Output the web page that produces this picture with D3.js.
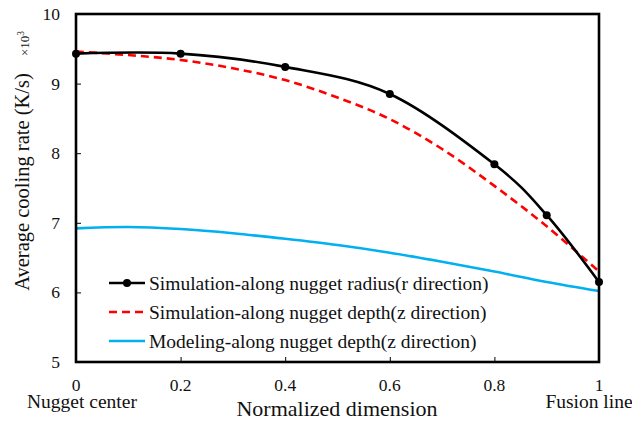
<!DOCTYPE html>
<html>
<head>
<meta charset="utf-8">
<script src="https://cdn.jsdelivr.net/npm/d3@7"></script>
<style>
  html, body { margin: 0; padding: 0; background: #fff; }
  svg { display: block; }
</style>
</head>
<body>
<svg id="chart" width="632" height="423"></svg>
<script>
// Cooling rate (x10^3 K/s) versus normalized position from nugget center to fusion line
const radiusX = [0, 0.2, 0.4, 0.6, 0.8, 0.9, 1];
const radiusY = [9.43, 9.43, 9.24, 8.85, 7.84, 7.11, 6.15];

const depthX = [0, 0.1, 0.2, 0.3, 0.4, 0.5, 0.6, 0.7, 0.8, 0.9, 1];
const depthSimY = [9.46, 9.41, 9.34, 9.22, 9.05, 8.80, 8.49, 8.06, 7.53, 6.95, 6.30];
const depthModelY = [6.92, 6.94, 6.91, 6.85, 6.77, 6.68, 6.57, 6.44, 6.30, 6.15, 6.02];

const xTicks = [0, 0.2, 0.4, 0.6, 0.8, 1];
const yTicks = [5, 6, 7, 8, 9, 10];
const seriesNames = [
  "Simulation-along nugget radius(r direction)",
  "Simulation-along nugget depth(z direction)",
  "Modeling-along nugget depth(z direction)"
];
const seriesColors = ["#000000", "#ff0000", "#00b0f0"];

const svg = d3.select("#chart");
const serif = "Liberation Serif, DejaVu Serif, serif";
const m = { left: 76, right: 599, top: 14, bottom: 362 };

const x = d3.scaleLinear().domain([0, 1]).range([m.left, m.right]);
const y = d3.scaleLinear().domain([5, 10]).range([m.bottom, m.top]);

// Inward ticks on the bottom and left edges
const xAxis = d3.axisTop(x).tickValues(xTicks.slice(1, -1)).tickSize(5).tickFormat("");
svg.append("g").attr("transform", `translate(0,${m.bottom})`).call(xAxis)
  .call(g => g.select(".domain").remove())
  .call(g => g.selectAll("line").attr("stroke", "#000").attr("stroke-width", 1));
const yAxis = d3.axisRight(y).tickValues(yTicks.slice(1, -1)).tickSize(5).tickFormat("");
svg.append("g").attr("transform", `translate(${m.left},0)`).call(yAxis)
  .call(g => g.select(".domain").remove())
  .call(g => g.selectAll("line").attr("stroke", "#000").attr("stroke-width", 1));

// Tick labels
svg.append("g").selectAll("text").data(xTicks).join("text")
  .attr("x", d => x(d)).attr("y", 391)
  .attr("text-anchor", "middle").attr("font-size", 17.5).attr("font-family", serif)
  .attr("fill", "#111")
  .text(d => d3.format("")(d));
svg.append("g").selectAll("text").data(yTicks).join("text")
  .attr("x", 60).attr("y", d => y(d) + 6)
  .attr("text-anchor", "end").attr("font-size", 17.5).attr("font-family", serif)
  .attr("fill", "#111")
  .text(d => d);

// Series
const smooth = d3.line().x(d => x(d[0])).y(d => y(d[1])).curve(d3.curveCardinal.tension(0));
const radiusPts = d3.zip(radiusX, radiusY);
const depthSimPts = d3.zip(depthX, depthSimY);
const depthModelPts = d3.zip(depthX, depthModelY);

const plot = svg.append("g");
plot.append("path").datum(depthModelPts).attr("d", smooth)
  .attr("fill", "none").attr("stroke", seriesColors[2]).attr("stroke-width", 2.6);
plot.append("path").datum(depthSimPts).attr("d", smooth)
  .attr("fill", "none").attr("stroke", seriesColors[1]).attr("stroke-width", 2.6)
  .attr("stroke-dasharray", "8,5");
plot.append("path").datum(radiusPts).attr("d", smooth)
  .attr("fill", "none").attr("stroke", seriesColors[0]).attr("stroke-width", 2.6);
plot.selectAll("circle").data(radiusPts).join("circle")
  .attr("cx", d => x(d[0])).attr("cy", d => y(d[1])).attr("r", 4)
  .attr("fill", "#000");

// Plot frame
svg.append("rect")
  .attr("x", m.left).attr("y", m.top)
  .attr("width", m.right - m.left).attr("height", m.bottom - m.top)
  .attr("fill", "none").attr("stroke", "#000").attr("stroke-width", 2.6);

// Legend
const legendRows = [283, 312, 341];
const lg = svg.append("g");
seriesNames.forEach((name, i) => {
  const ly = legendRows[i];
  const ln = lg.append("line").attr("x1", 109).attr("x2", 145).attr("y1", ly).attr("y2", ly)
    .attr("stroke", seriesColors[i]).attr("stroke-width", 2.6);
  if (i === 1) ln.attr("stroke-dasharray", "8,5");
  if (i === 0) lg.append("circle").attr("cx", 127).attr("cy", ly).attr("r", 4).attr("fill", "#000");
  lg.append("text").attr("x", 149).attr("y", ly + 7).attr("font-size", 19.5)
    .attr("font-family", serif).attr("fill", "#111").text(name);
});

// Axis titles and annotations
svg.append("text").attr("x", 337).attr("y", 416).attr("text-anchor", "middle")
  .attr("font-size", 22).attr("font-family", serif).attr("fill", "#111")
  .text("Normalized dimension");
svg.append("text").attr("x", 82).attr("y", 408).attr("text-anchor", "middle")
  .attr("font-size", 19.5).attr("font-family", serif).attr("fill", "#111")
  .text("Nugget center");
svg.append("text").attr("x", 589).attr("y", 408).attr("text-anchor", "middle")
  .attr("font-size", 19.5).attr("font-family", serif).attr("fill", "#111")
  .text("Fusion line");
svg.append("text").attr("transform", "translate(29,182) rotate(-90)")
  .attr("text-anchor", "middle").attr("font-size", 20.5).attr("font-family", serif)
  .attr("fill", "#111").text("Average cooling rate (K/s)");
const mult = svg.append("text").attr("transform", "translate(29,56) rotate(-90)")
  .attr("font-size", 13).attr("font-family", serif).attr("fill", "#111");
mult.append("tspan").text("×10");
mult.append("tspan").attr("dy", -5).attr("font-size", 9.5).text("3");
</script>
</body>
</html>
